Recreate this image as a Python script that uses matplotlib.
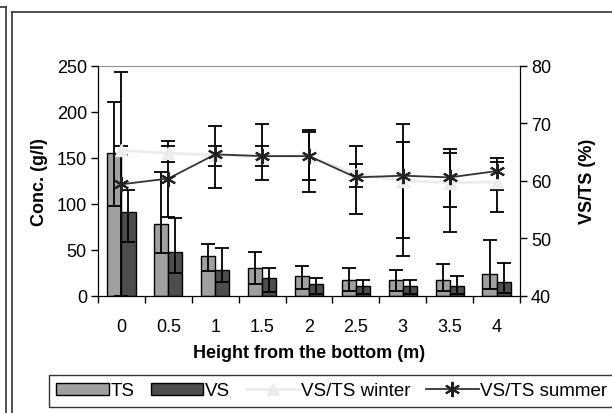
import numpy as np
import matplotlib
matplotlib.use('Agg')
import matplotlib.pyplot as plt
from matplotlib.lines import Line2D

plt.rcParams['font.family'] = ['Liberation Sans', 'DejaVu Sans']

# data
heights = ['0', '0.5', '1', '1.5', '2', '2.5', '3', '3.5', '4']

ts = [155, 78, 43.5, 30, 21.7, 17, 17, 17, 24.3]
ts_hi = [211, 135, 56, 48, 32.6, 30, 28, 34.5, 60.5]
ts_lo = [98, 47, 27, 13.5, 7.3, 5.4, 5.4, 5, 7.3]

vs = [91.5, 47.8, 28, 19, 13.5, 11, 11, 10.5, 15]
vs_hi = [115, 85, 52, 30, 19, 17, 17, 22, 36]
vs_lo = [59, 25, 15, 4, 2, 2, 2, 2, 3]

winter = [65.3, 64.8, 64.5, 64.2, 64.3, 61.2, 60.0, 59.7, 59.8]
winter_hi = [66.1, 66.1, 66.1, 66.1, 68.5, 62.9, 66.7, 64.9, 63.3]
winter_lo = [64.5, 63.2, 62.6, 62.6, 60.1, 58.9, 50.0, 55.5, 58.4]

summer = [59.4, 60.4, 64.6, 64.3, 64.3, 60.6, 60.9, 60.6, 61.7]
summer_hi = [78.9, 67.0, 69.6, 69.9, 68.8, 66.1, 69.9, 65.6, 63.9]
summer_lo = [40.0, 53.8, 58.7, 60.1, 58.1, 54.2, 47.0, 51.1, 54.6]


def err(v, lo, hi):
	v = np.array(v)
	return [v - np.array(lo), np.array(hi) - v]


fig = plt.figure(figsize=(6.12, 4.14), dpi=100)

# chart frame lines
frame = '#333333'
fig.add_artist(Line2D([6/612, 6/612], [0, 1-8/414], color=frame, lw=1.2, transform=fig.transFigure))
fig.add_artist(Line2D([0, 6/612], [1-8/414, 1-8/414], color=frame, lw=1.2, transform=fig.transFigure))
fig.add_artist(Line2D([12/612, 12/612], [0, 1-13/414], color=frame, lw=1.2, transform=fig.transFigure))
fig.add_artist(Line2D([12/612, 1], [1-13/414, 1-13/414], color=frame, lw=1.2, transform=fig.transFigure))

ax = fig.add_axes([98/612, 1-297/414, 422/612, 230.3/414])
x = np.arange(len(heights))
w = 0.3

b1 = ax.bar(x - w/2, ts, w, color='#a0a0a0', edgecolor='black', linewidth=1.0, label='TS', zorder=2)
b2 = ax.bar(x + w/2, vs, w, color='#4d4d4d', edgecolor='black', linewidth=1.0, label='VS', zorder=2)
ax.errorbar(x - w/2, ts, yerr=err(ts, ts_lo, ts_hi), fmt='none', ecolor='black',
			elinewidth=1.3, capsize=4.7, capthick=1.3, zorder=3)
ax.errorbar(x + w/2, vs, yerr=err(vs, vs_lo, vs_hi), fmt='none', ecolor='black',
			elinewidth=1.3, capsize=4.7, capthick=1.3, zorder=3)

ax.set_xlim(-0.5, len(heights) - 0.5)
ax.set_ylim(0, 250)
ax.set_yticks([0, 50, 100, 150, 200, 250])
ax.set_xticks(x)
ax.set_xticklabels(heights)
ax.set_xticks(np.arange(-0.5, len(heights), 1), minor=True)
ax.tick_params(axis='x', which='major', length=0, pad=16, labelsize=13)
ax.tick_params(axis='x', which='minor', length=5, width=1, direction='out')
ax.tick_params(axis='y', length=5, width=1, direction='out', pad=3, labelsize=13)
ax.spines['top'].set_color('#909090')
ax.set_xlabel('Height from the bottom (m)', fontsize=13, fontweight='bold', labelpad=6)
ax.set_ylabel('Conc. (g/l)', fontsize=13, fontweight='bold', labelpad=6)

ax2 = ax.twinx()
ax2.set_ylim(40, 80)
ax2.set_yticks([40, 50, 60, 70, 80])
ax2.tick_params(axis='y', length=5, width=1, direction='out', pad=3, labelsize=13)
ax2.spines['top'].set_visible(False)

ax2.errorbar(x, winter, yerr=err(winter, winter_lo, winter_hi), fmt='none', ecolor='black',
			 elinewidth=1.3, capsize=4.7, capthick=1.3, zorder=3)
ax2.errorbar(x, summer, yerr=err(summer, summer_lo, summer_hi), fmt='none', ecolor='black',
			 elinewidth=1.3, capsize=4.7, capthick=1.3, zorder=3)
l1, = ax2.plot(x, winter, color='#ececec', lw=2, marker='^', ms=9, mec='#ececec',
			   mfc='#ececec', label='VS/TS winter', zorder=4)
l2, = ax2.plot(x, summer, color='#333333', lw=1.3, marker=(6, 2, 0), ms=11, mew=1.5,
			   mec='#222222', label='VS/TS summer', zorder=5)
ax2.set_ylabel('VS/TS (%)', fontsize=13, fontweight='bold', labelpad=20)

leg = fig.legend([b1, b2, l1, l2], ['TS', 'VS', 'VS/TS winter', 'VS/TS summer'],
				 loc='upper left', bbox_to_anchor=(49/612, 1-376/414), ncol=4,
				 fontsize=13.5, frameon=True, fancybox=False, handlelength=2.8,
				 handleheight=0.6, handletextpad=0.1, columnspacing=0.85,
				 borderpad=0.4, numpoints=1, borderaxespad=0)
leg.get_frame().set_edgecolor('black')
leg.get_frame().set_linewidth(1.0)

fig.savefig('out.png', dpi=100)
